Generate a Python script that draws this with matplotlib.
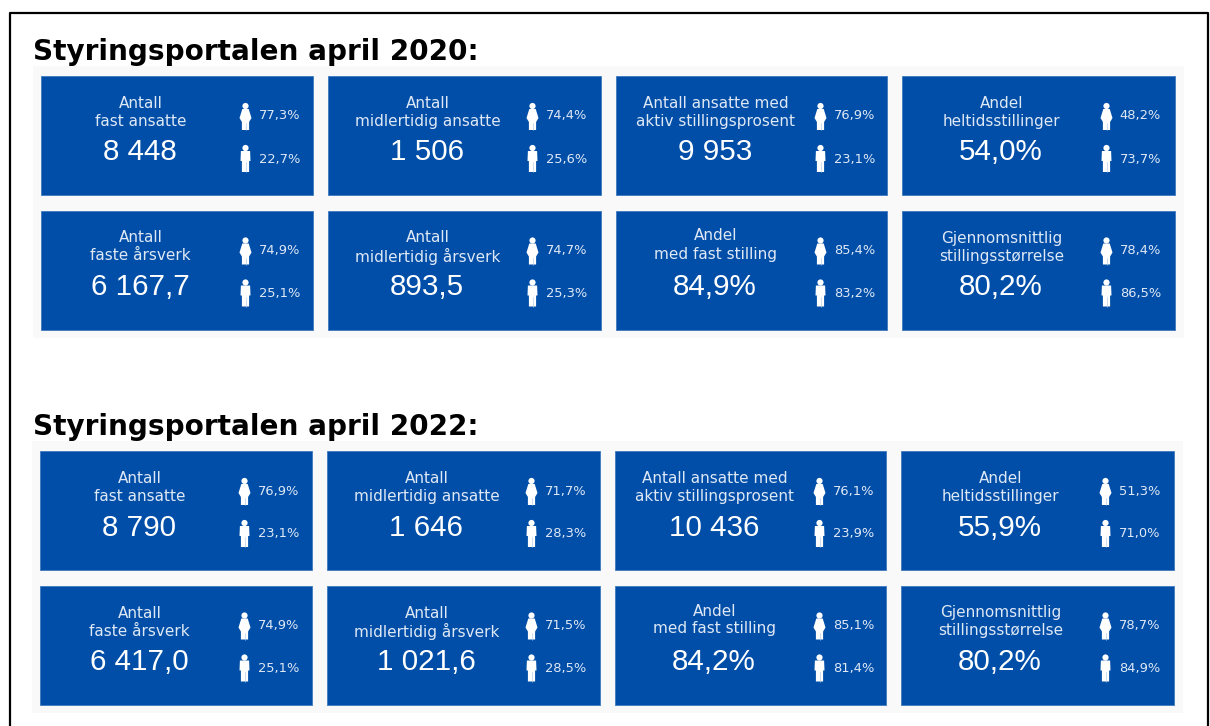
import matplotlib
matplotlib.use("Agg")
import matplotlib.pyplot as plt
from matplotlib.patches import Rectangle, Circle, Polygon

TITLES = ["Styringsportalen april 2020:", "Styringsportalen april 2022:"]

LABELS = [
    "Antall\nfast ansatte",
    "Antall\nmidlertidig ansatte",
    "Antall ansatte med\naktiv stillingsprosent",
    "Andel\nheltidsstillinger",
    "Antall\nfaste årsverk",
    "Antall\nmidlertidig årsverk",
    "Andel\nmed fast stilling",
    "Gjennomsnittlig\nstillingsstørrelse",
]

VALUES_2020 = ["8 448", "1 506", "9 953", "54,0%", "6 167,7", "893,5", "84,9%", "80,2%"]
WOMEN_2020 = ["77,3%", "74,4%", "76,9%", "48,2%", "74,9%", "74,7%", "85,4%", "78,4%"]
MEN_2020 = ["22,7%", "25,6%", "23,1%", "73,7%", "25,1%", "25,3%", "83,2%", "86,5%"]

VALUES_2022 = ["8 790", "1 646", "10 436", "55,9%", "6 417,0", "1 021,6", "84,2%", "80,2%"]
WOMEN_2022 = ["76,9%", "71,7%", "76,1%", "51,3%", "74,9%", "71,5%", "85,1%", "78,7%"]
MEN_2022 = ["23,1%", "28,3%", "23,9%", "71,0%", "25,1%", "28,5%", "81,4%", "84,9%"]

BLUE = "#004ea8"
PANEL = "#f9f9f9"
TEXT = "#dfe8f5"

fig = plt.figure(figsize=(12.1, 7.26), dpi=100)
ax = fig.add_axes([0, 0, 1, 1])
ax.set_xlim(0, 1210)
ax.set_ylim(726, 0)
ax.axis("off")


def draw_woman(x, y):
    ax.add_patch(Circle((x, y - 10), 3.1, color="white", lw=0))
    body = [(x - 3.2, y - 7), (x + 3.2, y - 7), (x + 6, y + 2), (x + 3.6, y + 6),
            (x + 3.6, y + 14), (x - 3.6, y + 14), (x - 3.6, y + 6), (x - 6, y + 2)]
    ax.add_patch(Polygon(body, color="white", lw=0))
    ax.plot([x, x], [y + 7, y + 14], color="#a9c4e4", lw=0.4)


def draw_man(x, y):
    ax.add_patch(Circle((x, y - 10), 3.1, color="white", lw=0))
    body = [(x - 4.6, y - 7), (x + 4.6, y - 7), (x + 5, y + 3), (x + 3.6, y + 3),
            (x + 3.6, y + 14), (x - 3.6, y + 14), (x - 3.6, y + 3), (x - 5, y + 3)]
    ax.add_patch(Polygon(body, color="white", lw=0))
    ax.plot([x, x], [y + 4, y + 14], color="#a9c4e4", lw=0.4)


def draw_tile(x, y, w, h, label, value, women, men, label_shift):
    ax.add_patch(Rectangle((x, y), w, h, facecolor=BLUE, edgecolor="#3f78bd", lw=0.6))
    top, bottom = label.split("\n")
    ax.text(x + 99.5, y + 27.5 - label_shift, top, color=TEXT, fontsize=11, ha="center", va="center")
    ax.text(x + 99.5, y + 45.5 - label_shift, bottom, color=TEXT, fontsize=11, ha="center", va="center")
    ax.text(x + 99, y + 76.5, value, color="white", fontsize=21.3, family="Liberation Sans",
            ha="center", va="center")
    draw_woman(x + 204.5, y + 40)
    draw_man(x + 204.5, y + 82)
    ax.text(x + 259, y + 40, women, color=TEXT, fontsize=9.4, ha="right", va="center")
    ax.text(x + 259, y + 83, men, color=TEXT, fontsize=9.4, ha="right", va="center")


def draw_block(left, top, title, values, women, men):
    ax.add_patch(Rectangle((left - 8, top - 10), 1151, 272, facecolor=PANEL, lw=0))
    xs = [left, left + 287, left + 575, left + 861]
    ys = [top, top + 134.5]
    for i in range(8):
        # the "Andel med fast stilling" label sits slightly higher
        shift = 2 if i == 6 else 0
        draw_tile(xs[i % 4], ys[i // 4], [272, 273, 271, 273][i % 4], 119,
                  LABELS[i], values[i], women[i], men[i], shift)
    ax.text(33, top - 24, title, fontsize=20.1, fontweight="bold", color="black",
            ha="left", va="center")


# frame, open at the bottom
ax.plot([10, 10, 1208, 1208], [726, 12.5, 12.5, 726], color="black", lw=1.6)

draw_block(41, 76, TITLES[0], VALUES_2020, WOMEN_2020, MEN_2020)
draw_block(40, 451, TITLES[1], VALUES_2022, WOMEN_2022, MEN_2022)

fig.savefig("out.png", dpi=100, facecolor="white")
